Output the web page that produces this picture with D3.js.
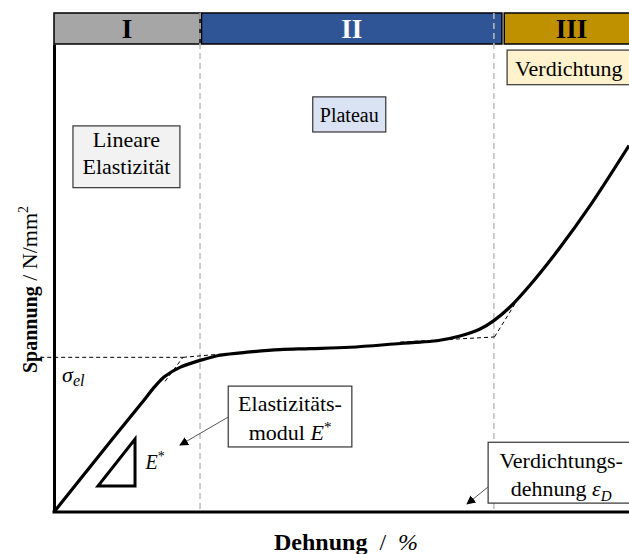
<!DOCTYPE html>
<html>
<head>
<meta charset="utf-8">
<script src="https://cdn.jsdelivr.net/npm/d3@7"></script>
<style>
  body { margin: 0; background: #fff; }
  text { font-family: "Liberation Serif", "Times New Roman", serif; }
</style>
</head>
<body>
<div id="chart"></div>
<script>
// stress-strain curve of a cellular material (schematic, % of axis)
const strain = [0, 8, 15, 17.6, 19.3, 21.9, 25.4, 28.9, 34.1, 39.3, 44.5, 51.5, 60.2, 63.7, 67.1, 70.6, 74.1, 76.5, 79.3, 82.8, 88, 93.2, 100];
const stress = [0, 12.3, 22.9, 26.9, 29.0, 30.9, 32.4, 33.5, 34.2, 34.7, 34.9, 35.2, 36.0, 36.3, 36.7, 37.6, 39.1, 40.9, 43.8, 48.5, 56.5, 65.4, 78.3];

// region boundaries (strain) and header bands
const regionBounds = [25.4, 76.5];
const regionNames = ["I", "II", "III"];
const regionStart = [0, 25.65, 78.3];
const regionEnd = [25.4, 77.9, 103];
const regionColors = ["#a6a6a6", "#2f5597", "#bf9000"];
const regionText = ["#000", "#fff", "#000"];

// construction lines (tangents)
const sigmaEl = 33.05;
const tangentLines = [
  [[-2.4, sigmaEl], [22.43, sigmaEl]],
  [[19.3, 27.9], [22.43, sigmaEl]],
  [[22.43, sigmaEl], [30.6, 33.9]],
  [[60.2, 36.3], [76.6, 37.4]],
  [[76.6, 37.4], [81.4, 46.9]]
];

// slope triangle for E*
const slopeTri = [[7.65, 5.54], [14.09, 5.54], [14.09, 15.57]];

const margin = {top: 44, right: 0, bottom: 41, left: 54};
const W = 629, H = 554;
const width = W - margin.left - margin.right;
const height = H - margin.top - margin.bottom - 1;

const x = d3.scaleLinear().domain([0, 100]).range([margin.left, margin.left + width]);
const y = d3.scaleLinear().domain([0, 100]).range([margin.top + height, margin.top]);

const svg = d3.select("#chart")
  .append("svg")
  .attr("width", W)
  .attr("height", H);

const defs = svg.append("defs");
defs.append("marker")
  .attr("id", "arrow")
  .attr("viewBox", "0 0 10 10")
  .attr("refX", 9).attr("refY", 5)
  .attr("markerWidth", 9).attr("markerHeight", 9)
  .attr("markerUnits", "userSpaceOnUse")
  .attr("orient", "auto")
  .append("path")
  .attr("d", "M0,0 L10,5 L0,10 z")
  .attr("fill", "#000");

// header bands
const hdrTop = 13;
const hdr = svg.append("g");
regionNames.forEach((n, i) => {
  hdr.append("rect")
    .attr("x", x(regionStart[i]))
    .attr("y", hdrTop)
    .attr("width", x(regionEnd[i]) - x(regionStart[i]))
    .attr("height", margin.top - hdrTop)
    .attr("fill", regionColors[i])
    .attr("stroke", "#000")
    .attr("stroke-width", 1.5);
  hdr.append("text")
    .attr("x", (x(regionStart[i]) + x(Math.min(regionEnd[i], 100))) / 2 + (i == 2 ? 5 : 0))
    .attr("y", 38)
    .attr("text-anchor", "middle")
    .attr("font-size", 27)
    .attr("font-weight", "bold")
    .attr("fill", regionText[i])
    .text(n);
});

// region separators
svg.selectAll(".sep")
  .data(regionBounds)
  .join("line")
  .attr("x1", d => x(d)).attr("x2", d => x(d))
  .attr("y1", hdrTop).attr("y2", y(0))
  .attr("stroke", "#bdbdbd")
  .attr("stroke-width", 1.5)
  .attr("stroke-dasharray", "6,4");

// tangent construction lines
svg.selectAll(".tan")
  .data(tangentLines)
  .join("line")
  .attr("x1", d => x(d[0][0])).attr("y1", d => y(d[0][1]))
  .attr("x2", d => x(d[1][0])).attr("y2", d => y(d[1][1]))
  .attr("stroke", "#000")
  .attr("stroke-width", 1)
  .attr("stroke-dasharray", "4,3");

// main curve
const pts = strain.map((s, i) => [s, stress[i]]);
svg.append("path")
  .datum(pts)
  .attr("fill", "none")
  .attr("stroke", "#000")
  .attr("stroke-width", 3.2)
  .attr("d", d3.line().x(d => x(d[0])).y(d => y(d[1])).curve(d3.curveCatmullRom.alpha(0.5)));

// slope triangle
svg.append("path")
  .datum(slopeTri)
  .attr("fill", "none")
  .attr("stroke", "#000")
  .attr("stroke-width", 3)
  .attr("stroke-linejoin", "miter")
  .attr("d", d3.line().x(d => x(d[0])).y(d => y(d[1])).curve(d3.curveLinearClosed));

// axes
svg.append("g")
  .attr("transform", `translate(0,${y(0)})`)
  .call(d3.axisBottom(x).ticks(0).tickSizeOuter(0))
  .call(g => g.select(".domain").attr("stroke-width", 3).attr("d", `M${x(0) - 1.5},0H${W}`));
svg.append("g")
  .attr("transform", `translate(${x(0)},0)`)
  .call(d3.axisLeft(y).ticks(0).tickSizeOuter(0))
  .call(g => g.select(".domain").attr("stroke-width", 3));

// annotation boxes
function box(x0, y0, x1, y1, fill) {
  svg.append("rect")
    .attr("x", x(x0)).attr("y", y(y0))
    .attr("width", x(x1) - x(x0)).attr("height", y(y1) - y(y0))
    .attr("fill", fill)
    .attr("stroke", "#333")
    .attr("stroke-width", 1.2);
}
function label(cx, by, size, parts, anchor) {
  const t = svg.append("text")
    .attr("x", cx).attr("y", by)
    .attr("font-size", size)
    .attr("text-anchor", anchor || "middle");
  parts.forEach(p => {
    const ts = t.append("tspan").text(p.t);
    if (p.i) ts.attr("font-style", "italic");
    if (p.b) ts.attr("font-weight", "bold");
    if (p.s) ts.attr("font-size", p.s);
    if (p.dy) ts.attr("dy", p.dy);
  });
  return t;
}

box(3.3, 82.5, 21.9, 69.3, "#f2f2f2");
label((x(3.3) + x(21.9)) / 2, 147, 22, [{t: "Lineare"}]);
label((x(3.3) + x(21.9)) / 2, 174, 22, [{t: "Elastizität"}]);

box(45.0, 88.7, 57.7, 81.2, "#dae3f3");
label((x(45.0) + x(57.7)) / 2, 122, 20, [{t: "Plateau"}]);

box(78.8, 98.7, 102, 91.3, "#fff2cc");
label(x(78.8) + 8, 76, 22, [{t: "Verdichtung"}], "start");

box(30.3, 26.9, 51.8, 13.9, "#fff");
label((x(30.3) + x(51.8)) / 2, 411, 22, [{t: "Elastizitäts-"}]);
label((x(30.3) + x(51.8)) / 2, 440, 22, [{t: "modul "}, {t: "E", i: true}, {t: "*", s: 15, dy: -8}]);

box(75.5, 14.9, 102, 1.9, "#fff");
label(x(75.5) + 73, 468, 22, [{t: "Verdichtungs-"}]);
label(x(75.5) + 73, 496, 22, [{t: "dehnung "}, {t: "ε", i: true}, {t: "D", i: true, s: 15, dy: 5}]);

// arrows
const arrows = [
  [[30.26, 20.26], [21.91, 14.29]],
  [[75.48, 5.33], [71.83, 1.71]]
];
svg.selectAll(".arr")
  .data(arrows)
  .join("line")
  .attr("x1", d => x(d[0][0])).attr("y1", d => y(d[0][1]))
  .attr("x2", d => x(d[1][0])).attr("y2", d => y(d[1][1]))
  .attr("stroke", "#444")
  .attr("stroke-width", 0.9)
  .attr("marker-end", "url(#arrow)");

// sigma_el and E* labels
label(x(1.4), y(27.8), 22, [{t: "σ", i: true}, {t: "el", i: true, s: 16, dy: 4}], "start");
label(x(15.9), y(9.2), 20, [{t: "E", i: true}, {t: "*", s: 14, dy: -8}], "start");

// axis titles
label(274, 550, 24, [{t: "Dehnung", b: true}, {t: "\u00a0\u00a0/\u00a0\u00a0"}, {t: "%", i: true}], "start");
svg.append("text")
  .attr("transform", "translate(37,373) rotate(-90)")
  .attr("font-size", 22)
  .call(t => {
    t.append("tspan").attr("font-weight", "bold").attr("font-size", 20).text("Spannung");
    t.append("tspan").text(" / N/mm");
    t.append("tspan").attr("font-size", 14).attr("dy", -9).text("2");
  });
</script>
</body>
</html>
